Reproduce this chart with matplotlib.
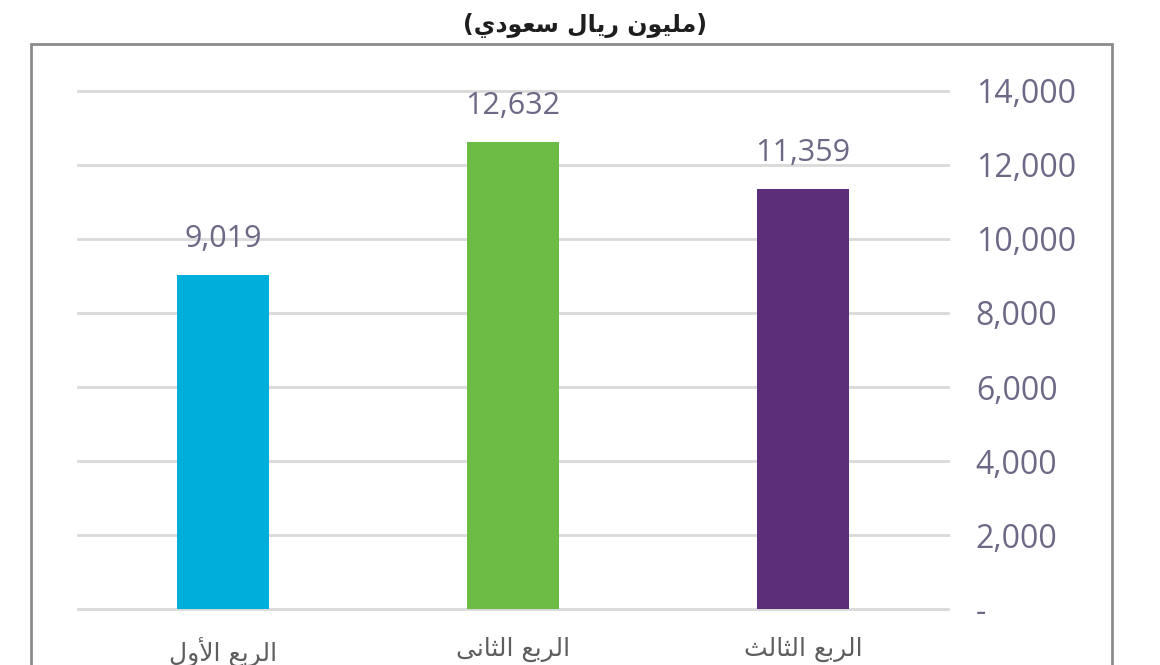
import matplotlib
matplotlib.use("Agg")
import matplotlib.pyplot as plt
from matplotlib.patches import Rectangle
from matplotlib.ticker import FuncFormatter

# Arabic text written in visual order with presentation forms (matplotlib has no shaping)
categories = ["\uFEDD\uFEED\uFEF7\uFE8D \uFECA\uFE91\uFEAE\uFEDF\uFE8D",   # الربع الأول
              "\uFEF0\uFEE7\uFE8E\uFE9C\uFEDF\uFE8D \uFECA\uFE91\uFEAE\uFEDF\uFE8D",  # الربع الثانى
              "\uFE9A\uFEDF\uFE8E\uFE9C\uFEDF\uFE8D \uFECA\uFE91\uFEAE\uFEDF\uFE8D"]  # الربع الثالث
values = [9019, 12632, 11359]
bar_colors = ["#00AEDB", "#6CBB45", "#5C2D78"]
yticks = [0, 2000, 4000, 6000, 8000, 10000, 12000, 14000]
subtitle = "(\uFEF1\uFEA9\uFEEE\uFECC\uFEB3 \uFEDD\uFE8E\uFEF3\uFEAD \uFEE5\uFEEE\uFEF4\uFEE0\uFEE3)"  # (مليون ريال سعودي)

W, H = 1160, 665
fig = plt.figure(figsize=(W / 100, H / 100), dpi=100)
fig.patch.set_facecolor("white")

ax = fig.add_axes([78 / W, (H - 609) / H, (948 - 78) / W, (609 - 91) / H])
x = list(range(len(values)))
ax.bar(x, values, width=0.315, color=bar_colors, zorder=3)
ax.set_xlim(-0.5, 2.5)
ax.set_ylim(0, 14000)

ax.set_yticks(yticks)
ax.yaxis.set_ticks_position("right")
ax.yaxis.set_major_formatter(FuncFormatter(lambda v, p: "-" if v == 0 else f"{int(v):,}"))
ax.tick_params(axis="y", length=0, pad=20, labelsize=23, labelcolor="#6C6987")
for lab in ax.get_yticklabels():
    lab.set_fontfamily(["Open Sans", "DejaVu Sans"])
ax.yaxis.grid(True, color="#D9D9D9", linewidth=2, zorder=0)
for gl in ax.get_ygridlines():
    gl.set_clip_on(False)
ax.set_xticks(x)
ax.set_xticklabels(categories, fontfamily="DejaVu Sans", fontsize=18, color="#5E5E5E")
ax.tick_params(axis="x", length=0, pad=20)
for s in ax.spines.values():
    s.set_visible(False)

for xi, v in zip(x, values):
    ax.annotate(f"{v:,}", (xi, v), xytext=(0, 15), textcoords="offset points",
                ha="center", va="bottom", fontsize=22, color="#6C6987",
                fontfamily=["Open Sans", "DejaVu Sans"])

# outer frame
fig.patches.append(Rectangle((31 / W, -0.1), (1112 - 31) / W, (H - 44) / H + 0.1,
                             transform=fig.transFigure, fill=False,
                             edgecolor="#8C8C8C", linewidth=2))

fig.text(585 / W, (H - 26) / H, subtitle, ha="center", va="center",
         fontsize=17, fontweight="bold", color="#1E1E1E", fontfamily="DejaVu Sans")

fig.savefig("out.png", dpi=100)
